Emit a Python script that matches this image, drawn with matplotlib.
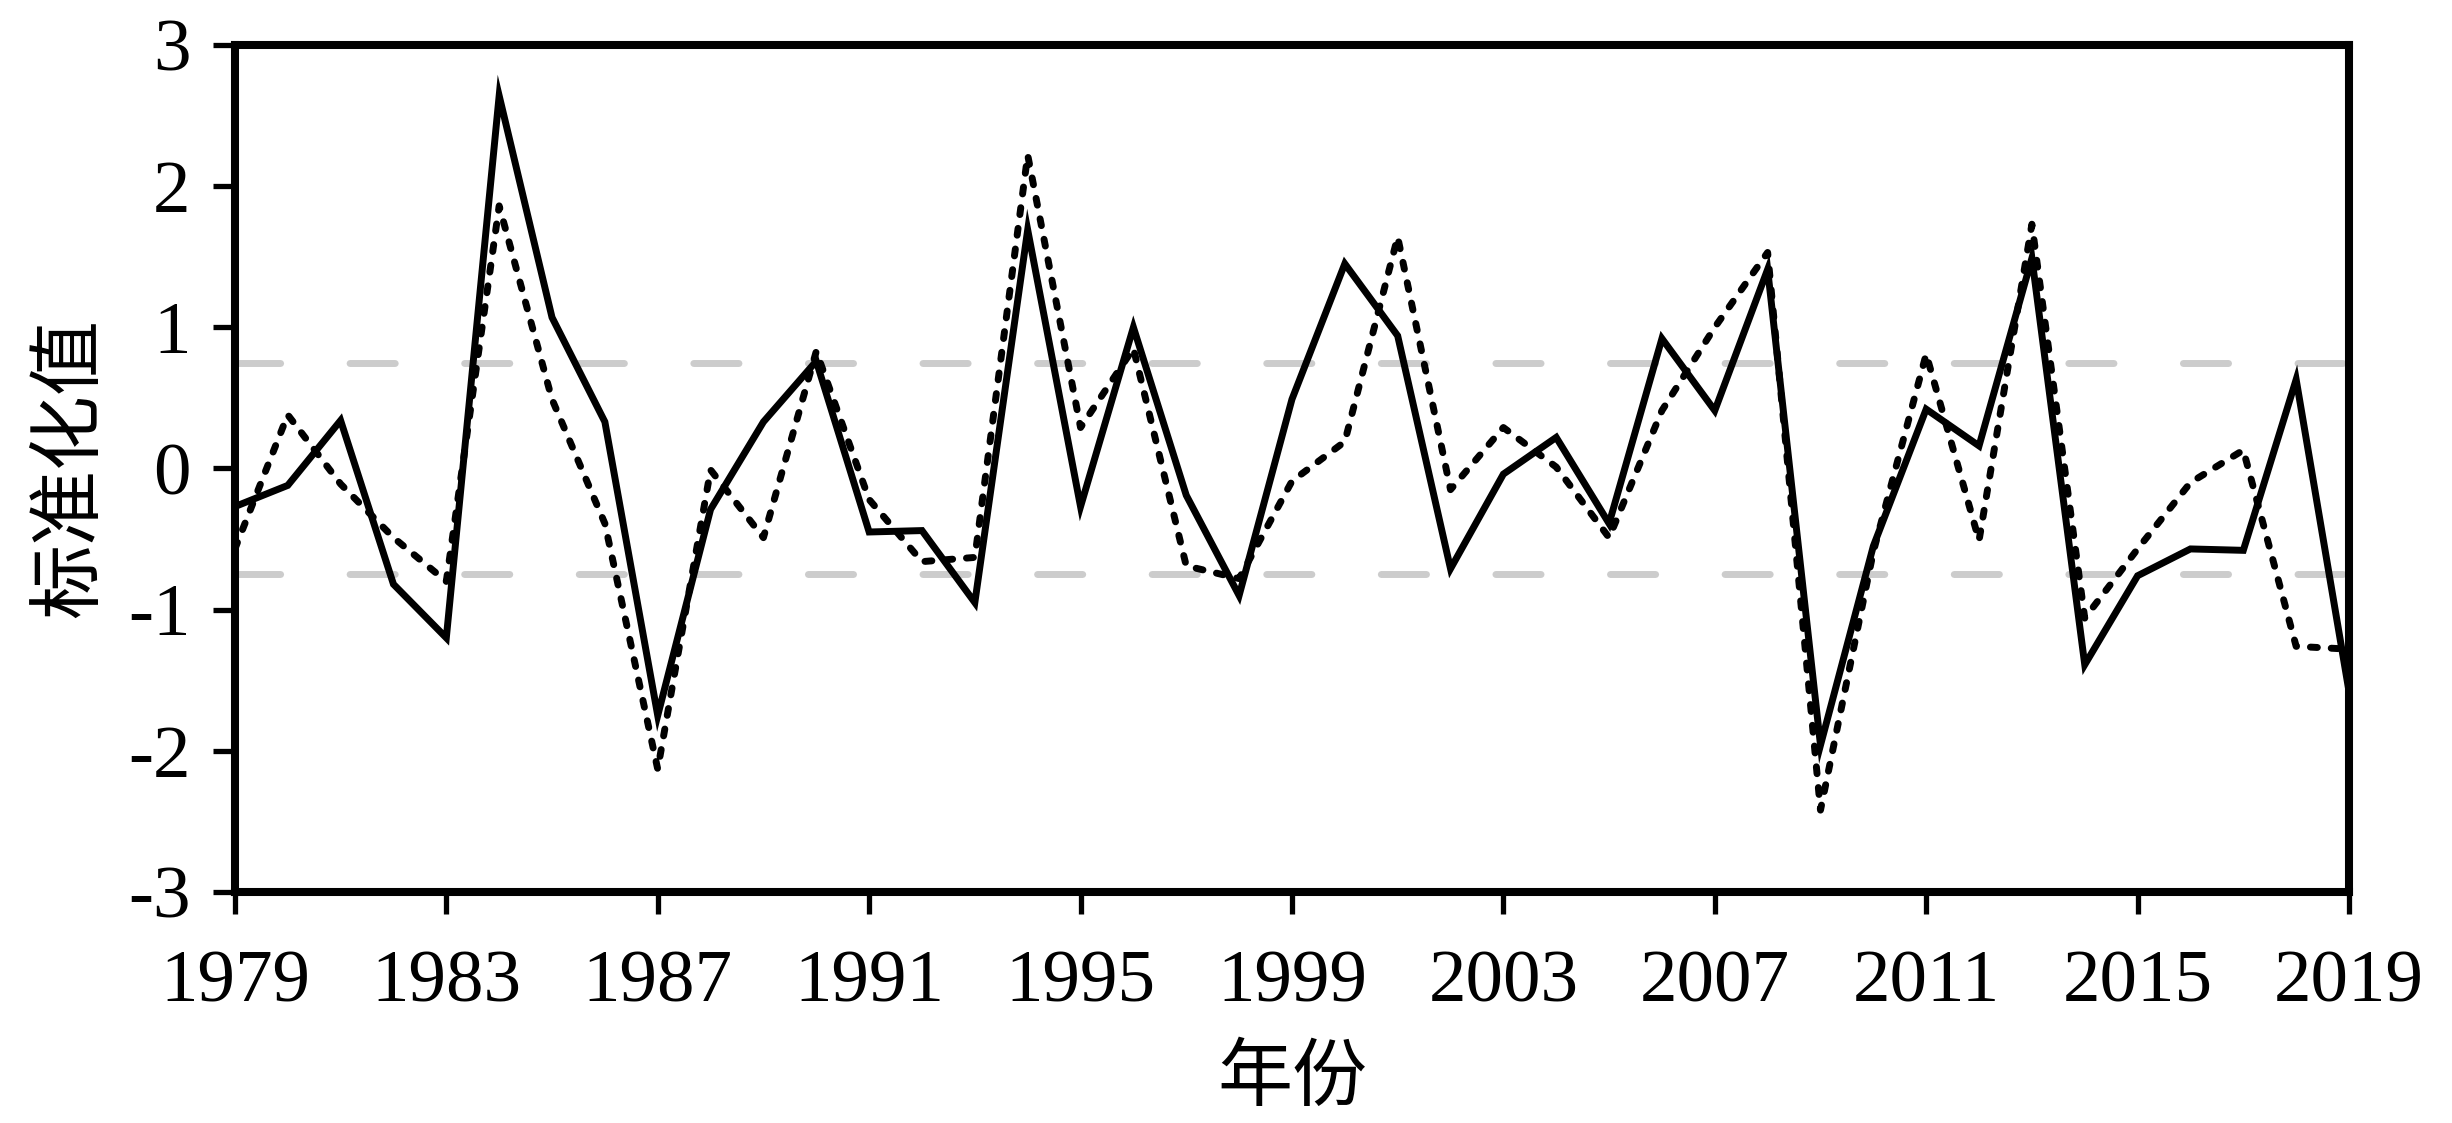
import matplotlib
matplotlib.use('Agg')
import matplotlib.pyplot as plt

plt.rcParams['font.family'] = ['Liberation Serif', 'Noto Sans CJK SC']
plt.rcParams['axes.unicode_minus'] = False

# Data
years = list(range(1979, 2020))
solid_vals = [-0.27, -0.12, 0.34, -0.82, -1.20, 2.64, 1.07, 0.33, -1.75, -0.29,
              0.33, 0.76, -0.45, -0.44, -0.95, 1.69, -0.27, 1.00, -0.19, -0.90,
              0.49, 1.45, 0.94, -0.71, -0.04, 0.22, -0.39, 0.92, 0.41, 1.41,
              -1.96, -0.55, 0.42, 0.16, 1.49, -1.39, -0.76, -0.57, -0.58, 0.63,
              -1.58]
dotted_vals = [-0.57, 0.38, -0.11, -0.49, -0.80, 1.86, 0.49, -0.39, -2.13, -0.01,
               -0.49, 0.83, -0.22, -0.66, -0.63, 2.22, 0.29, 0.85, -0.69, -0.78,
               -0.09, 0.19, 1.64, -0.15, 0.29, 0.01, -0.49, 0.41, 1.00, 1.53,
               -2.42, -0.59, 0.81, -0.51, 1.73, -1.06, -0.57, -0.10, 0.13, -1.26,
               -1.28]
thresholds = [0.75, -0.75]
xticks = list(range(1979, 2020, 4))
yticks = [-3, -2, -1, 0, 1, 2, 3]

fig = plt.figure(figsize=(24.52, 11.23), dpi=100)
ax = fig.add_axes([0.0958, 0.2057, 0.958 - 0.0958, 0.96 - 0.2057])

# threshold lines
for t in thresholds:
    ax.axhline(t, color='#cccccc', linewidth=5.0, linestyle=(0, (6.5, 10.0)),
               dash_capstyle='round', zorder=1)

ax.plot(years, dotted_vals, color='black', linewidth=5.0,
        linestyle=(0, (1.0, 2.0)), dash_capstyle='round', zorder=2)
ax.plot(years, solid_vals, color='black', linewidth=5.0,
        solid_joinstyle='miter', zorder=3)

ax.set_xlim(1979, 2019)
ax.set_ylim(-3, 3)
ax.set_xticks(xticks)
ax.set_yticks(yticks)
ax.set_yticklabels([str(v) for v in yticks])

for s in ax.spines.values():
    s.set_linewidth(5.8)
ax.tick_params(axis='both', direction='out', length=16, width=3.8,
               labelsize=54, top=False, right=False)
ax.tick_params(axis='y', pad=16)
ax.tick_params(axis='x', pad=26)

ax.set_xlabel('年份', fontsize=54, family=['Noto Sans CJK SC'], labelpad=16)
ax.set_ylabel('标准化值', fontsize=54, family=['Noto Sans CJK SC'], labelpad=14)

fig.savefig('out.png', dpi=100)
